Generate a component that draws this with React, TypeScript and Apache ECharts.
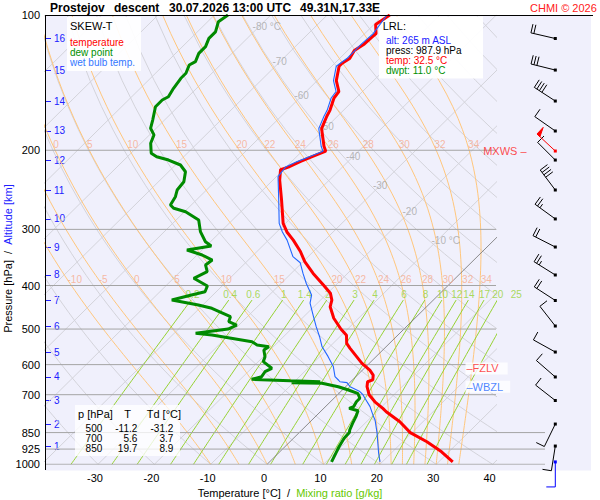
import React, { useEffect, useRef } from "react";
import * as echarts from "echarts";

const FONT = "'Liberation Sans', Arial, Helvetica, sans-serif";

// ---------------- sounding data (pressure hPa, temperature °C) ----------------
const tempP = [100, 105, 110, 112, 116, 120, 125, 128, 130, 140, 148, 153, 163, 168, 179, 196, 201, 207, 212, 218, 221, 233, 258, 291, 304, 317, 336, 354, 376, 399, 416, 431, 446, 473, 500, 516, 538, 552, 596, 617, 633, 649, 655, 672, 700, 726, 751, 764, 804, 850, 891, 938, 987.9];
const tempT = [-58.9, -59.7, -58.0, -58.1, -58.2, -58.8, -58.2, -58.7, -58.7, -56.6, -54.2, -53.9, -52.4, -51.9, -50.6, -47.0, -45.8, -47.3, -48.5, -49.6, -50.5, -48.8, -44.9, -40.4, -38.2, -35.6, -32.3, -29.7, -26.1, -22.2, -19.5, -18.0, -17.1, -14.4, -11.2, -9.1, -7.6, -6.1, -1.3, 1.3, 2.8, 3.6, 3.0, 3.8, 5.6, 7.9, 10.5, 11.7, 15.9, 19.7, 24.3, 28.7, 32.5];

const dewP = [100, 103.5, 109, 112.7, 117.6, 121.7, 127, 129.2, 134.8, 138.3, 145.6, 152, 154.6, 160, 171.3, 178.7, 184.9, 192.9, 203.1, 206.8, 210.3, 215.7, 223.3, 235, 245.2, 253.8, 264.8, 269.3, 274.1, 285.9, 303.5, 319.6, 326.7, 333.4, 342.1, 351.1, 360.1, 372.7, 385.5, 401.1, 412.9, 420.1, 430.9, 442, 449.6, 469.4, 481.6, 489.8, 500, 511, 515.5, 533.4, 542.6, 547.3, 556.7, 576, 591, 611.4, 622.2, 638.3, 647, 651.6, 655, 658.3, 660.3, 672, 683.4, 695, 700, 713, 725.6, 744.4, 750.6, 759.8, 783.4, 810.6, 838.9, 850, 875.4, 913.9, 945.2, 987.9];
const dewT = [-87.6, -88.1, -86.8, -86.8, -85.9, -85.9, -85.0, -85.5, -84.6, -84.6, -84.1, -83.5, -84.0, -84.0, -82.1, -81.0, -79.2, -78.3, -76.4, -74.8, -72.1, -69.1, -67.0, -65.5, -65.2, -64.3, -63.7, -62.5, -59.8, -56.0, -53.6, -50.9, -49.1, -52.7, -49.1, -46.4, -46.7, -45.2, -46.4, -42.6, -42.0, -43.8, -46.4, -40.8, -37.8, -33.0, -32.4, -30.4, -31.2, -36.2, -33.0, -24.7, -23.2, -20.8, -21.1, -19.7, -19.1, -16.4, -17.0, -16.7, -18.0, -10.9, -5.4, -10.3, -4.8, -1.3, 1.1, 3.3, 3.7, 4.6, 4.6, 5.0, 4.5, 6.5, 7.2, 7.8, 8.5, 8.9, 9.0, 9.6, 10.2, 11.0];

const wetP = [100, 110, 116, 125, 130, 140, 148, 153, 163, 168, 179, 196, 201, 207, 212, 218, 229, 258, 291, 304, 317, 345, 356, 376, 396, 420, 438, 469, 494, 520, 547, 576, 606, 638, 650, 655, 658, 672, 689, 700, 713, 744, 783, 797, 850, 945, 987.9];
const wetT = [-59.4, -58.5, -58.7, -58.7, -59.2, -57.1, -54.7, -54.4, -52.9, -52.4, -51.1, -47.5, -46.3, -47.8, -49.0, -50.1, -49.7, -45.4, -41.1, -39.0, -36.7, -32.7, -30.3, -27.9, -25.5, -22.5, -21.3, -18.3, -16.0, -13.6, -11.4, -8.5, -5.8, -3.7, -2.4, -1.9, -0.5, 0.8, 3.4, 4.5, 5.5, 7.9, 10.3, 11.2, 13.8, 17.8, 19.6];

// ---------------- altitude / wind ----------------
const altKm = [1, 2, 3, 4, 5, 6, 7, 8, 9, 10, 11, 12, 13, 14, 15, 16];
const altP = [910.7, 813.6, 721.1, 639.2, 562.5, 492.3, 431.9, 379.0, 328.4, 284.4, 245.2, 210.3, 181.2, 155.4, 132.6, 112.8];
const windDir = [189, 206, 308, 311, 299, 322, 303, 302, 297, 306, 323, 315, 305, 303, 284, 283];
const windKt = [10, 10, 10, 10, 10, 10, 20, 25, 20, 25, 40, 10, 10, 40, 30, 20];
const sfcP = 987.9, sfcDir = 180, sfcKt = 10;
const mxwsP = 200.8, mxwsDir = 313, mxwsKt = 50;
const fzlvP = 612, wbzlP = 672;

// ---------------- ticks / background lines ----------------
const pressureTicks = [100, 200, 300, 400, 500, 600, 700, 850, 925, 1000];
const gridPressures = [200, 300, 400, 500, 600, 700, 850, 925, 1000];
const extendedPressures = [850, 925, 1000];
const tempTicks = [-30, -20, -10, 0, 10, 20, 30, 40];
const isotherms = [-120, -110, -100, -90, -80, -70, -60, -50, -40, -30, -20, -10, 0, 10, 20, 30, 40];
const isoLabelT = [-80, -70, -60, -50, -40, -30, -20, -10];
const isoLabelP = [106.3, 127.2, 151.4, 177.5, 206.5, 239.6, 274.4, 316.8];
const dryAdiabats = [-40, -30, -20, -10, 0, 10, 20, 30, 40, 50, 60, 70, 80, 90, 100, 110, 120, 130, 140, 150, 160, 170, 180];
const moistAdiabats = [-10, -5, 0, 5, 10, 15, 20, 22, 24, 26, 28, 30, 32, 34];
const moistLabelsUpper = [0, 5, 10, 15, 20, 22, 24, 26, 28, 30, 32, 34];
const moistLabelsLower = [-10, -5, 0, 5, 10, 15, 20, 22, 24, 26, 28, 30, 32, 34];
const moistUpperP = 194.6, moistLowerP = 386.9;
const mixingRatios = [0.2, 0.4, 0.6, 1, 1.4, 2, 3, 4, 6, 8, 10, 12, 14, 17, 20, 25];
const mixTopP = 431, mixLabelP = 418;
const tableP = [500, 700, 850];
const tableT = [-11.2, 5.6, 19.7];
const tableTd = [-31.2, 3.7, 8.9];

// ---------------- geometry ----------------
const X_MIN = -39.4, X_MAX = 40.6;
const SKEW = 80.66;
const sx = (t: number, p: number) => t + SKEW * Math.log10(1000 / p);
const ly = (p: number) => Math.log10(p);

function esat(tc: number) {
  return 6.112 * Math.exp((17.67 * tc) / (tc + 243.5));
}
// Bolton equivalent potential temperature of saturated air (T in K)
function thetaE(T: number, p: number) {
  const es = esat(T - 273.15);
  if (es >= p * 0.8) return 1e9;
  const r = (622 * es) / (p - es);
  return T * Math.pow(1000 / p, 0.2854 * (1 - 0.00028 * r)) * Math.exp((3.376 / T - 0.00254) * r * (1 + 0.00081 * r));
}
function moistT(the: number, p: number) {
  let lo = 110, hi = 330;
  for (let i = 0; i < 40; i++) {
    const mid = (lo + hi) / 2;
    if (thetaE(mid, p) > the) hi = mid;
    else lo = mid;
  }
  return (lo + hi) / 2 - 273.15;
}
function mixTd(w: number, p: number) {
  const e = (w * p) / (622 + w);
  const l = Math.log(e / 6.112);
  return (243.5 * l) / (17.67 - l);
}

function lineSeries(data: number[][], color: string, width: number, extra: any = {}) {
  return {
    type: "line",
    xAxisIndex: 0,
    yAxisIndex: 0,
    data,
    symbol: "none",
    showSymbol: false,
    silent: true,
    z: 1,
    lineStyle: { color, width },
    ...extra,
  };
}

function barbRenderer(color: string) {
  return (params: any, api: any) => {
    const c = api.coord([api.value(0), api.value(1)]);
    const dir = (api.value(2) * Math.PI) / 180;
    let kt = api.value(3);
    const ux = Math.sin(dir), uy = -Math.cos(dir);
    const fx = -uy, fy = ux;
    const L = 25, F = 9, G = 3;
    const ex = c[0] + ux * L, ey = c[1] + uy * L;
    const st = { stroke: color, lineWidth: 1 };
    const ch: any[] = [
      { type: "line", shape: { x1: c[0], y1: c[1], x2: ex, y2: ey }, style: st },
      { type: "rect", shape: { x: c[0] - 1.5, y: c[1] - 1.5, width: 3, height: 3 }, style: { fill: color } },
    ];
    let pos = 0;
    while (kt >= 50) {
      const bx = ex - ux * pos, by = ey - uy * pos;
      ch.push({
        type: "polygon",
        shape: { points: [[bx, by], [bx + fx * F, by + fy * F], [bx - ux * 4, by - uy * 4]] },
        style: { fill: color, stroke: color, lineWidth: 1 },
      });
      pos += 5;
      kt -= 50;
    }
    while (kt >= 10) {
      const bx = ex - ux * pos, by = ey - uy * pos;
      ch.push({ type: "line", shape: { x1: bx, y1: by, x2: bx + fx * F, y2: by + fy * F }, style: st });
      pos += G;
      kt -= 10;
    }
    if (kt >= 5) {
      if (pos === 0) pos = G;
      const bx = ex - ux * pos, by = ey - uy * pos;
      ch.push({ type: "line", shape: { x1: bx, y1: by, x2: bx + fx * F * 0.5, y2: by + fy * F * 0.5 }, style: st });
    }
    return { type: "group", children: ch };
  };
}

function txt(x: number, y: number, text: string, fill = "#000", size = 11, align = "left", weight = "normal") {
  return {
    type: "text",
    x,
    y,
    z: 100,
    silent: true,
    style: {
      text,
      fill,
      fontSize: size,
      fontFamily: FONT,
      fontWeight: weight,
      align,
      textAlign: align,
      verticalAlign: "middle",
      textVerticalAlign: "middle",
    },
  };
}

function buildOption() {
  const series: any[] = [];

  // isotherms
  for (const t of isotherms) {
    series.push(
      lineSeries([[sx(t, 1000), ly(1000)], [sx(t, 100), ly(100)]], t === 0 ? "#707070" : "#d3d3da", t === 0 ? 0.8 : 1, { z: t === 0 ? 2 : 1 })
    );
  }
  // dry adiabats
  for (const th of dryAdiabats) {
    const d: number[][] = [];
    for (let p = 1000; p >= 100; p -= 20) {
      const t = (th + 273.15) * Math.pow(p / 1000, 0.2857) - 273.15;
      d.push([sx(t, p), ly(p)]);
    }
    series.push(lineSeries(d, "#d3d3da", 1));
  }
  // moist (pseudo) adiabats
  for (const tw of moistAdiabats) {
    const the = thetaE(tw + 273.15, 1000);
    const d: number[][] = [];
    for (let p = 1000; p >= 100; p -= 10) d.push([sx(moistT(the, p), p), ly(p)]);
    series.push(lineSeries(d, "#ffc67c", 1));
  }
  // mixing ratio lines
  for (const w of mixingRatios) {
    const d: number[][] = [];
    for (let p = 1000; p > mixTopP; p -= 10) d.push([sx(mixTd(w, p), p), ly(p)]);
    d.push([sx(mixTd(w, mixTopP), mixTopP), ly(mixTopP)]);
    series.push(lineSeries(d, "#96d232", 1, { clip: false }));
  }
  // pressure lines
  for (const p of gridPressures) {
    series.push(lineSeries([[X_MIN, ly(p)], [X_MAX, ly(p)]], "#a4a4a4", 1, { z: 2 }));
  }
  for (const p of extendedPressures) {
    series.push({
      ...lineSeries([[0, ly(p)], [49, ly(p)]], "#a4a4a4", 1, { z: 2 }),
      xAxisIndex: 1,
      yAxisIndex: 2,
    });
  }

  const transLabel = { color: "rgba(0,0,0,0)" };
  // isotherm labels
  series.push({
    type: "scatter",
    xAxisIndex: 0,
    yAxisIndex: 0,
    symbolSize: 1,
    silent: true,
    clip: false,
    z: 3,
    itemStyle: transLabel,
    label: { show: true, position: "inside", formatter: "{b}", color: "#a6a6a6", fontSize: 10, fontFamily: FONT },
    data: isoLabelT.map((t, i) => {
      const withUnit = t === -80 || t === -10;
      return {
        name: withUnit ? `${t} °C` : `${t}`,
        value: [sx(t, isoLabelP[i]), ly(isoLabelP[i])],
        label: withUnit ? { offset: [8, 0] } : undefined,
      };
    }),
  });
  // moist adiabat labels
  const moistLabelData: any[] = [];
  for (const tw of moistLabelsUpper) {
    const t = moistT(thetaE(tw + 273.15, 1000), moistUpperP);
    moistLabelData.push({ name: `${tw}`, value: [sx(t, moistUpperP), ly(moistUpperP)] });
  }
  for (const tw of moistLabelsLower) {
    const t = moistT(thetaE(tw + 273.15, 1000), moistLowerP);
    moistLabelData.push({ name: `${tw}`, value: [sx(t, moistLowerP), ly(moistLowerP)] });
  }
  series.push({
    type: "scatter",
    xAxisIndex: 0,
    yAxisIndex: 0,
    symbolSize: 1,
    silent: true,
    clip: false,
    z: 3,
    itemStyle: transLabel,
    label: { show: true, position: "right", distance: 0, formatter: "{b}", color: "#f7ab8c", fontSize: 10, fontFamily: FONT },
    data: moistLabelData,
  });
  // mixing ratio labels
  series.push({
    type: "scatter",
    xAxisIndex: 0,
    yAxisIndex: 0,
    symbolSize: 1,
    silent: true,
    clip: false,
    z: 3,
    itemStyle: transLabel,
    label: { show: true, position: "inside", offset: [-3, 0], formatter: "{b}", color: "#96d232", fontSize: 10, fontFamily: FONT },
    data: mixingRatios.map((w) => ({ name: `${w}`, value: [sx(mixTd(w, mixLabelP), mixLabelP), ly(mixLabelP)] })),
  });

  // profiles
  series.push(lineSeries(dewP.map((p, i) => [sx(dewT[i], p), ly(p)]), "#008a00", 3, { z: 5 }));
  series.push(lineSeries(tempP.map((p, i) => [sx(tempT[i], p), ly(p)]), "#ff0000", 3, { z: 6 }));
  series.push(lineSeries(wetP.map((p, i) => [sx(wetT[i], p), ly(p)]), "#2266ff", 1.1, { z: 7 }));

  // wind barbs
  const BARB_X = 59.3;
  series.push({
    type: "custom",
    xAxisIndex: 1,
    yAxisIndex: 2,
    silent: true,
    z: 8,
    renderItem: barbRenderer("#000"),
    data: altP.map((p, i) => [BARB_X, ly(p), windDir[i], windKt[i]]),
  });
  series.push({
    type: "custom",
    xAxisIndex: 1,
    yAxisIndex: 2,
    silent: true,
    z: 9,
    renderItem: barbRenderer("#ff0000"),
    data: [[BARB_X, ly(mxwsP), mxwsDir, mxwsKt]],
  });
  series.push({
    type: "custom",
    xAxisIndex: 1,
    yAxisIndex: 2,
    silent: true,
    z: 9,
    renderItem: barbRenderer("#0000ff"),
    data: [[BARB_X, ly(sfcP), sfcDir, sfcKt]],
  });

  // level labels
  series.push({
    type: "scatter",
    xAxisIndex: 1,
    yAxisIndex: 2,
    symbolSize: 1,
    silent: true,
    clip: false,
    z: 10,
    itemStyle: transLabel,
    label: { show: true, position: "right", distance: 0, formatter: "{b}", fontSize: 11, fontFamily: FONT },
    data: [
      { name: "MXWS –", value: [-13.3, ly(mxwsP)], label: { color: "#ff2020" } },
      { name: "–FZLV", value: [-31, ly(fzlvP)], label: { color: "#ff2020", backgroundColor: "#ffffff", padding: [1, 9, 0, 1] } },
      { name: "–WBZL", value: [-31, ly(wbzlP)], label: { color: "#2266ff", backgroundColor: "#ffffff", padding: [1, 7, 0, 1] } },
    ],
  });

  const graphic: any[] = [
    { type: "rect", z: -10, silent: true, shape: { x: 45.5, y: 15, width: 545.5, height: 455.5 }, style: { fill: "#f0f0fc" } },
    { type: "line", z: 50, silent: true, shape: { x1: 45, y1: 15.5, x2: 593, y2: 15.5 }, style: { stroke: "#000", lineWidth: 1 } },
    { type: "line", z: 50, silent: true, shape: { x1: 45.5, y1: 15, x2: 45.5, y2: 470 }, style: { stroke: "#000", lineWidth: 1 } },
    // title
    txt(50, 7.5, "Prostejov", "#000", 12, "left", "bold"),
    txt(114, 7.5, "descent", "#000", 12, "left", "bold"),
    txt(169, 7.5, "30.07.2026 13:00 UTC", "#000", 12, "left", "bold"),
    txt(300, 7.5, "49.31N,17.33E", "#000", 12, "left", "bold"),
    txt(530, 7.5, "CHMI © 2026", "#ff2020", 11),
    // legend
    { type: "rect", z: 4, silent: true, shape: { x: 67, y: 17, width: 74, height: 54 }, style: { fill: "rgba(255,255,255,0.92)" } },
    txt(70, 26, "SKEW-T", "#000", 11),
    txt(70, 42, "temperature", "#ff0000", 10),
    txt(70, 52, "dew point", "#009000", 10),
    txt(70, 62, "wet bulb temp.", "#3377ff", 10),
    // LRL
    { type: "rect", z: 4, silent: true, shape: { x: 379, y: 16.5, width: 104, height: 62 }, style: { fill: "rgba(255,255,255,0.95)" } },
    txt(382.7, 26, "LRL:", "#000", 11),
    txt(386, 40, "alt: 265 m ASL", "#2020ff", 10),
    txt(386, 50.3, "press: 987.9 hPa", "#000", 10),
    txt(386, 60.3, "temp: 32.5 °C", "#ff0000", 10),
    txt(386, 70.3, "dwpt: 11.0 °C", "#009000", 10),
    // table
    { type: "rect", z: 4, silent: true, shape: { x: 75, y: 405, width: 105, height: 51 }, style: { fill: "rgba(255,255,255,0.78)" } },
    txt(78, 414, "p [hPa]", "#000", 11),
    txt(127.7, 414, "T", "#000", 11, "center"),
    txt(146.7, 414, "Td [°C]", "#000", 11),
    // axis names
    {
      type: "text",
      x: 8,
      y: 258.5,
      rotation: Math.PI / 2,
      z: 100,
      silent: true,
      style: {
        text: "{a|Pressure [hPa]\u00a0\u00a0/\u00a0\u00a0}{b|Altitude [km]}",
        fontSize: 11,
        fontFamily: FONT,
        align: "center",
        textAlign: "center",
        verticalAlign: "middle",
        textVerticalAlign: "middle",
        rich: {
          a: { fill: "#000", color: "#000", fontSize: 11, fontFamily: FONT },
          b: { fill: "#2222ff", color: "#2222ff", fontSize: 11, fontFamily: FONT },
        },
      },
    },
    {
      type: "text",
      x: 290,
      y: 493,
      z: 100,
      silent: true,
      style: {
        text: "{a|Temperature [°C]\u00a0\u00a0/\u00a0\u00a0}{b|Mixing ratio [g/kg]}",
        fontSize: 11,
        fontFamily: FONT,
        align: "center",
        textAlign: "center",
        verticalAlign: "middle",
        textVerticalAlign: "middle",
        rich: {
          a: { fill: "#000", color: "#000", fontSize: 11, fontFamily: FONT },
          b: { fill: "#66c800", color: "#66c800", fontSize: 11, fontFamily: FONT },
        },
      },
    },
  ];
  const rowY = [428.3, 438.3, 448.3];
  tableP.forEach((p, i) => {
    graphic.push(txt(102.3, rowY[i], `${p}`, "#000", 10, "right"));
    graphic.push(txt(137.3, rowY[i], tableT[i].toFixed(1), "#000", 10, "right"));
    graphic.push(txt(173.3, rowY[i], tableTd[i].toFixed(1), "#000", 10, "right"));
  });

  const altLog = altP.map((p) => ly(p));
  const altFormatter = (v: number) => {
    let best = 0;
    for (let i = 0; i < altLog.length; i++) if (Math.abs(altLog[i] - v) < Math.abs(altLog[best] - v)) best = i;
    return `${altKm[best]}`;
  };

  return {
    animation: false,
    backgroundColor: "#ffffff",
    textStyle: { fontFamily: FONT },
    grid: [
      { left: 45, top: 15, width: 451, height: 449.3 },
      { left: 496, top: 15, width: 100, height: 449.3 },
    ],
    xAxis: [
      {
        type: "value",
        gridIndex: 0,
        min: X_MIN,
        max: X_MAX,
        axisLine: { show: false },
        axisTick: { show: false },
        splitLine: { show: false },
        axisLabel: { customValues: tempTicks, color: "#000", fontSize: 11, fontFamily: FONT, margin: 8, padding: [0, 6, 0, 0] },
      },
      { type: "value", gridIndex: 1, min: 0, max: 100, show: false },
    ],
    yAxis: [
      {
        type: "value",
        gridIndex: 0,
        min: 2,
        max: 3,
        inverse: true,
        position: "left",
        axisLine: { show: false },
        axisTick: { show: false },
        splitLine: { show: false },
        axisLabel: {
          customValues: pressureTicks.map((p) => ly(p)),
          formatter: (v: number) => `${Math.round(Math.pow(10, v))}`,
          color: "#000",
          fontSize: 11,
          fontFamily: FONT,
          margin: 5,
        },
      },
      {
        type: "value",
        gridIndex: 0,
        min: 2,
        max: 3,
        inverse: true,
        position: "left",
        axisLine: { show: false },
        splitLine: { show: false },
        axisTick: { show: true, inside: true, length: 6, customValues: altLog, lineStyle: { color: "#2020ff", width: 1 } },
        axisLabel: { inside: true, margin: 9, customValues: altLog, formatter: altFormatter, color: "#2020ff", fontSize: 10, fontFamily: FONT },
      },
      { type: "value", gridIndex: 1, min: 2, max: 3, inverse: true, show: false },
    ],
    series,
    graphic,
  };
}

export default function App() {
  const ref = useRef<HTMLDivElement>(null);
  useEffect(() => {
    if (!ref.current) return;
    const chart = echarts.init(ref.current, undefined, { renderer: "svg" });
    chart.setOption(buildOption() as any);
    return () => chart.dispose();
  }, []);
  return <div ref={ref} style={{ position: "absolute", left: 0, top: 0, width: 600, height: 500 }} />;
}
